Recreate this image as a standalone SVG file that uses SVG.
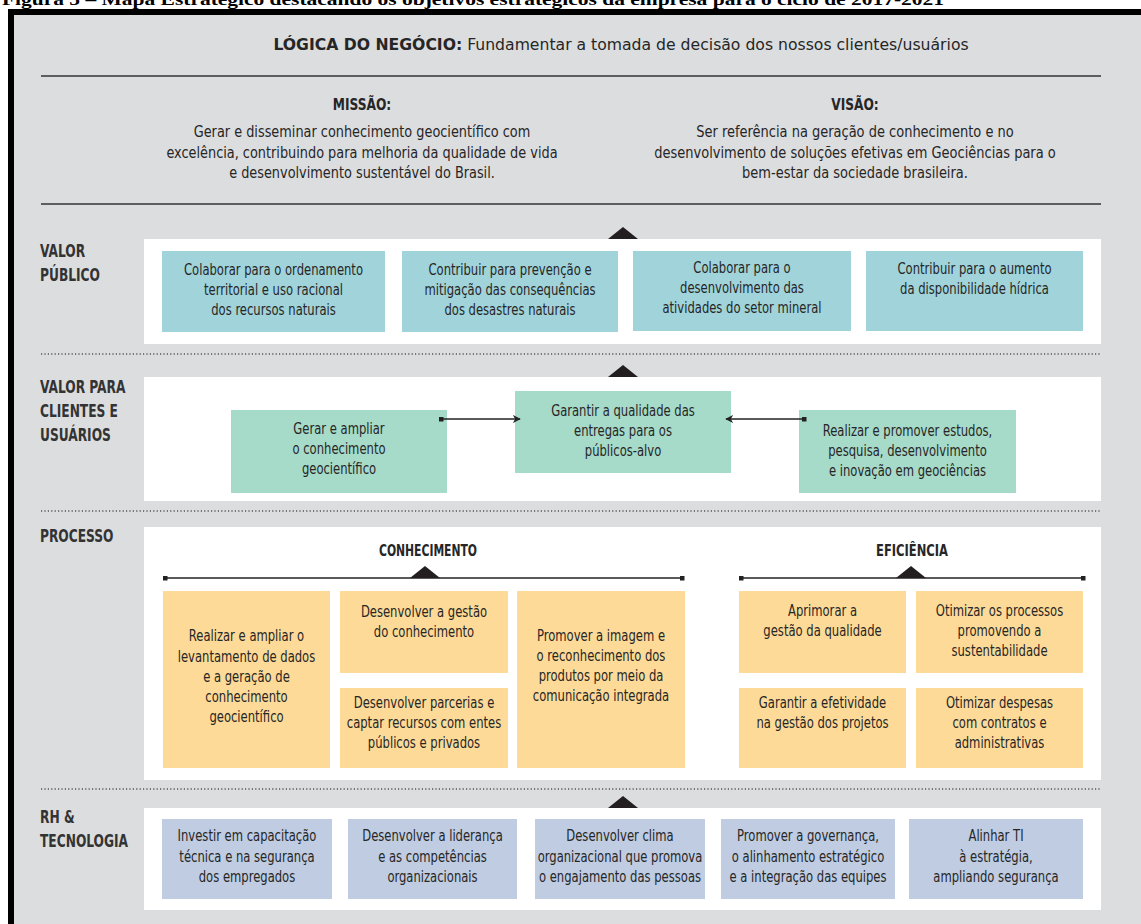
<svg xmlns="http://www.w3.org/2000/svg" width="1141" height="924" viewBox="0 0 1141 924">
<style>
.t{font-family:"DejaVu Sans Condensed","Liberation Sans Narrow","Liberation Sans",sans-serif;font-stretch:condensed;fill:#262626;font-size:15px;text-anchor:middle}
.m{font-size:16px}
.lab{font-family:"DejaVu Sans Condensed","Liberation Sans Narrow","Liberation Sans",sans-serif;font-stretch:condensed;fill:#333;font-size:17px;font-weight:bold}
.hd{font-family:"DejaVu Sans Condensed","Liberation Sans Narrow","Liberation Sans",sans-serif;font-stretch:condensed;fill:#262626;font-size:16px;font-weight:bold;text-anchor:middle}
.vp{fill:#a0d3da}.vc{fill:#a6dac9}.pr{fill:#fdda97}.rh{fill:#bfcce2}
.panel{fill:#fff}
.sol{stroke:#333;stroke-width:1.5;fill:none}
.dot{stroke:#555;stroke-width:1.3;stroke-dasharray:1.2 2.2;fill:none}
.tri{fill:#231f20}
</style>
<defs>
<marker id="ah" viewBox="0 0 10 10" refX="9" refY="5" markerWidth="8" markerHeight="8" markerUnits="userSpaceOnUse" orient="auto"><path d="M0,0 L10,5 L0,10 L3,5 z" fill="#222"/></marker>
<marker id="sq" viewBox="0 0 10 10" refX="5" refY="5" markerWidth="5" markerHeight="5" markerUnits="userSpaceOnUse"><rect width="10" height="10" fill="#222"/></marker>
</defs>
<text x="2" y="5" font-family="Liberation Serif, serif" font-weight="bold" font-size="17" fill="#000" textLength="942" lengthAdjust="spacingAndGlyphs">Figura 5 – Mapa Estratégico destacando os objetivos estratégicos da empresa para o ciclo de 2017-2021</text>
<rect x="8" y="9" width="1140" height="920" fill="#000"/>
<rect x="14" y="15" width="1130" height="915" fill="#dcdddf"/>

<g id="header">
<text class="t" font-size="20" transform="translate(621 0) scale(1.16 1)"><tspan x="0" y="50"><tspan font-weight="bold">LÓGICA DO NEGÓCIO:</tspan> Fundamentar a tomada de decisão dos nossos clientes/usuários</tspan></text>
<line x1="41" y1="76" x2="1101" y2="76" class="sol"/>
</g>
<g id="missao">
<text class="hd" transform="translate(362 0) scale(0.85 1)"><tspan x="0" y="110">MISSÃO:</tspan></text>
<text class="t m" transform="translate(362 0) scale(0.895 1)"><tspan x="0" y="137">Gerar e disseminar conhecimento geocientífico com</tspan><tspan x="0" y="158">excelência, contribuindo para melhoria da qualidade de vida</tspan><tspan x="0" y="178">e desenvolvimento sustentável do Brasil.</tspan></text>
</g>
<g id="visao">
<text class="hd" transform="translate(855 0) scale(0.85 1)"><tspan x="0" y="110">VISÃO:</tspan></text>
<text class="t m" transform="translate(855 0) scale(0.903 1)"><tspan x="0" y="137">Ser referência na geração de conhecimento e no</tspan><tspan x="0" y="158">desenvolvimento de soluções efetivas em Geociências para o</tspan><tspan x="0" y="178">bem-estar da sociedade brasileira.</tspan></text>
</g>
<line x1="41" y1="204" x2="1101" y2="204" class="sol"/>

<!-- VALOR PUBLICO -->
<g id="valor-publico">
<polygon points="608,239 623,227 638,239" class="tri"/>
<rect x="144" y="239" width="957" height="105" class="panel"/>
<text class="lab" transform="translate(40 0) scale(0.8 1)"><tspan x="0" y="257">VALOR</tspan><tspan x="0" y="281">PÚBLICO</tspan></text>
</g>
<g id="vp1"><rect x="162" y="251" width="223" height="81" class="vp"/><text class="t" transform="translate(273.5 0) scale(0.86 1)"><tspan x="0" y="275">Colaborar para o ordenamento</tspan><tspan x="0" y="295">territorial e uso racional</tspan><tspan x="0" y="315">dos recursos naturais</tspan></text></g>
<g id="vp2"><rect x="402" y="251" width="216" height="81" class="vp"/><text class="t" transform="translate(510 0) scale(0.86 1)"><tspan x="0" y="275">Contribuir para prevenção e</tspan><tspan x="0" y="295">mitigação das consequências</tspan><tspan x="0" y="315">dos desastres naturais</tspan></text></g>
<g id="vp3"><rect x="633" y="251" width="218" height="80" class="vp"/><text class="t" transform="translate(742 0) scale(0.86 1)"><tspan x="0" y="273">Colaborar para o</tspan><tspan x="0" y="293">desenvolvimento das</tspan><tspan x="0" y="313">atividades do setor mineral</tspan></text></g>
<g id="vp4"><rect x="866" y="251" width="217" height="80" class="vp"/><text class="t" transform="translate(974.5 0) scale(0.86 1)"><tspan x="0" y="274">Contribuir para o aumento</tspan><tspan x="0" y="294">da disponibilidade hídrica</tspan></text></g>
<line x1="41" y1="354" x2="1101" y2="354" class="dot"/>

<!-- VALOR CLIENTES -->
<g id="valor-clientes">
<polygon points="608,377 623,365 638,377" class="tri"/>
<rect x="144" y="377" width="957" height="124" class="panel"/>
<text class="lab" transform="translate(40 0) scale(0.8 1)"><tspan x="0" y="393">VALOR PARA</tspan><tspan x="0" y="417">CLIENTES E</tspan><tspan x="0" y="441">USUÁRIOS</tspan></text>
</g>
<g id="vc1"><rect x="231" y="410" width="216" height="83" class="vc"/><text class="t" transform="translate(339 0) scale(0.86 1)"><tspan x="0" y="434">Gerar e ampliar</tspan><tspan x="0" y="454">o conhecimento</tspan><tspan x="0" y="474">geocientífico</tspan></text></g>
<g id="vc2"><rect x="515" y="391" width="216" height="82" class="vc"/><text class="t" transform="translate(623 0) scale(0.86 1)"><tspan x="0" y="416">Garantir a qualidade das</tspan><tspan x="0" y="436">entregas para os</tspan><tspan x="0" y="456">públicos-alvo</tspan></text></g>
<g id="vc3"><rect x="799" y="410" width="217" height="83" class="vc"/><text class="t" transform="translate(907.5 0) scale(0.86 1)"><tspan x="0" y="436">Realizar e promover estudos,</tspan><tspan x="0" y="456">pesquisa, desenvolvimento</tspan><tspan x="0" y="476">e inovação em geociências</tspan></text></g>
<line x1="41" y1="511" x2="1101" y2="511" class="dot"/>

<!-- PROCESSO -->
<g id="processo">
<rect x="144" y="527" width="957" height="253" class="panel"/>
<text class="lab" transform="translate(40 0) scale(0.8 1)"><tspan x="0" y="542">PROCESSO</tspan></text>
<text class="hd" font-size="15" transform="translate(428 0) scale(0.75 1)"><tspan x="0" y="556">CONHECIMENTO</tspan></text>
<text class="hd" font-size="15" transform="translate(912 0) scale(0.8 1)"><tspan x="0" y="556">EFICIÊNCIA</tspan></text>
</g>
<g id="pA"><rect x="163" y="591" width="167" height="177" class="pr"/><text class="t" transform="translate(246.5 0) scale(0.86 1)"><tspan x="0" y="641">Realizar e ampliar o</tspan><tspan x="0" y="662">levantamento de dados</tspan><tspan x="0" y="682">e a geração de</tspan><tspan x="0" y="702">conhecimento</tspan><tspan x="0" y="722">geocientífico</tspan></text></g>
<g id="pB"><rect x="340" y="591" width="168" height="82" class="pr"/><text class="t" transform="translate(424 0) scale(0.86 1)"><tspan x="0" y="617">Desenvolver a gestão</tspan><tspan x="0" y="637">do conhecimento</tspan></text></g>
<g id="pC"><rect x="340" y="688" width="168" height="80" class="pr"/><text class="t" transform="translate(424 0) scale(0.86 1)"><tspan x="0" y="708">Desenvolver parcerias e</tspan><tspan x="0" y="728">captar recursos com entes</tspan><tspan x="0" y="748">públicos e privados</tspan></text></g>
<g id="pD"><rect x="517" y="591" width="168" height="177" class="pr"/><text class="t" transform="translate(601 0) scale(0.86 1)"><tspan x="0" y="641">Promover a imagem e</tspan><tspan x="0" y="661">o reconhecimento dos</tspan><tspan x="0" y="681">produtos por meio da</tspan><tspan x="0" y="701">comunicação integrada</tspan></text></g>
<g id="pE"><rect x="739" y="591" width="167" height="82" class="pr"/><text class="t" transform="translate(822.5 0) scale(0.86 1)"><tspan x="0" y="616">Aprimorar a</tspan><tspan x="0" y="636">gestão da qualidade</tspan></text></g>
<g id="pF"><rect x="916" y="591" width="167" height="82" class="pr"/><text class="t" transform="translate(999.5 0) scale(0.86 1)"><tspan x="0" y="616">Otimizar os processos</tspan><tspan x="0" y="636">promovendo a</tspan><tspan x="0" y="656">sustentabilidade</tspan></text></g>
<g id="pG"><rect x="739" y="688" width="167" height="80" class="pr"/><text class="t" transform="translate(822.5 0) scale(0.86 1)"><tspan x="0" y="708">Garantir a efetividade</tspan><tspan x="0" y="728">na gestão dos projetos</tspan></text></g>
<g id="pH"><rect x="916" y="688" width="167" height="80" class="pr"/><text class="t" transform="translate(999.5 0) scale(0.86 1)"><tspan x="0" y="708">Otimizar despesas</tspan><tspan x="0" y="728">com contratos e</tspan><tspan x="0" y="748">administrativas</tspan></text></g>
<line x1="41" y1="789" x2="1101" y2="789" class="dot"/>

<!-- RH -->
<g id="rh-tecnologia">
<polygon points="608,808 623,796 638,808" class="tri"/>
<rect x="144" y="808" width="957" height="102" class="panel"/>
<text class="lab" transform="translate(40 0) scale(0.8 1)"><tspan x="0" y="823">RH &amp;</tspan><tspan x="0" y="847">TECNOLOGIA</tspan></text>
</g>
<g id="rh1"><rect x="162" y="819" width="170" height="80" class="rh"/><text class="t" transform="translate(247 0) scale(0.86 1)"><tspan x="0" y="841">Investir em capacitação</tspan><tspan x="0" y="862">técnica e na segurança</tspan><tspan x="0" y="882">dos empregados</tspan></text></g>
<g id="rh2"><rect x="348" y="819" width="169" height="80" class="rh"/><text class="t" transform="translate(432.5 0) scale(0.86 1)"><tspan x="0" y="841">Desenvolver a liderança</tspan><tspan x="0" y="862">e as competências</tspan><tspan x="0" y="882">organizacionais</tspan></text></g>
<g id="rh3"><rect x="535" y="819" width="170" height="80" class="rh"/><text class="t" transform="translate(620 0) scale(0.86 1)"><tspan x="0" y="841">Desenvolver clima</tspan><tspan x="0" y="862">organizacional que promova</tspan><tspan x="0" y="882">o engajamento das pessoas</tspan></text></g>
<g id="rh4"><rect x="721" y="819" width="174" height="80" class="rh"/><text class="t" transform="translate(808 0) scale(0.86 1)"><tspan x="0" y="841">Promover a governança,</tspan><tspan x="0" y="862">o alinhamento estratégico</tspan><tspan x="0" y="882">e a integração das equipes</tspan></text></g>
<g id="rh5"><rect x="909" y="819" width="174" height="80" class="rh"/><text class="t" transform="translate(996 0) scale(0.86 1)"><tspan x="0" y="841">Alinhar TI</tspan><tspan x="0" y="862">à estratégia,</tspan><tspan x="0" y="882">ampliando segurança</tspan></text></g>

<g id="connectors">
<line x1="441" y1="419" x2="520" y2="419" stroke="#222" stroke-width="1.5" marker-start="url(#sq)" marker-end="url(#ah)"/>
<line x1="804" y1="419" x2="726" y2="419" stroke="#222" stroke-width="1.5" marker-start="url(#sq)" marker-end="url(#ah)"/>
<line x1="165" y1="578" x2="682" y2="578" stroke="#222" stroke-width="1.5" marker-start="url(#sq)" marker-end="url(#sq)"/>
<polygon points="410,578 425,566 440,578" class="tri"/>
<line x1="741" y1="578" x2="1083" y2="578" stroke="#222" stroke-width="1.5" marker-start="url(#sq)" marker-end="url(#sq)"/>
<polygon points="896,578 911,566 926,578" class="tri"/>
</g>
</svg>
